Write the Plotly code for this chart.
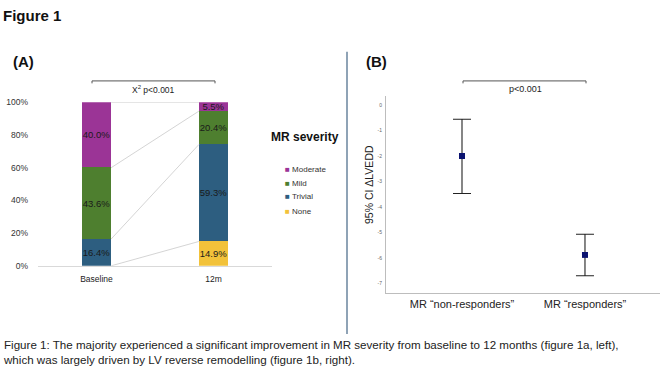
import plotly.graph_objects as go
import numpy as np

W, H = 661, 374

# ---- Data panel A ----
timepoints = ["Baseline", "12m"]
severity = ["None", "Trivial", "Mild", "Moderate"]
pct_none = [0.0, 14.9]
pct_trivial = [16.4, 59.3]
pct_mild = [43.6, 20.4]
pct_moderate = [40.0, 5.5]
sev_colors = {"None": "#F2C23A", "Trivial": "#2D5E80", "Mild": "#4E7F2F", "Moderate": "#9B3496"}

# ---- Data panel B ----
groups = ["MR \u201cnon-responders\u201d", "MR \u201cresponders\u201d"]
mean_dlvedd = [-2.0, -5.88]
ci_upper = [-0.55, -5.07]
ci_lower = [-3.47, -6.7]
yticks_b = [0, -1, -2, -3, -4, -5, -6, -7]


def px(x):
    return x / W


def py(y):
    return 1 - y / H


FONT = "Liberation Sans, Arial, sans-serif"
fig = go.Figure()

series = [pct_none, pct_trivial, pct_mild, pct_moderate]
xa = list(range(len(timepoints)))
for name, vals in zip(severity, series):
    xs = [x for x, v in zip(xa, vals) if v > 0]
    ys = [v for v in vals if v > 0]
    fig.add_trace(go.Bar(
        x=xs, y=ys, name=name, width=0.25,
        marker=dict(color=sev_colors[name], line=dict(width=0)),
        texttemplate="%{y:.1f}%",
        textposition="inside", insidetextanchor="middle", textangle=0,
        textfont=dict(size=9.5, color="#1a1a1a", family=FONT),
        xaxis="x", yaxis="y", showlegend=False, hoverinfo="skip",
    ))

# series lines connecting the tops of each stacked segment
cum = np.cumsum(np.array(series), axis=0)
bw = 0.125
for row in cum:
    fig.add_trace(go.Scatter(
        x=[xa[0] + bw, xa[1] - bw], y=[row[0], min(row[1], 100)],
        mode="lines", line=dict(color="#C9C9C9", width=0.8),
        xaxis="x", yaxis="y", showlegend=False, hoverinfo="skip",
    ))

# Panel B
xb = list(range(len(groups)))
fig.add_trace(go.Scatter(
    x=xb, y=mean_dlvedd, mode="markers",
    marker=dict(symbol="square", size=6, color="#0B1370"),
    error_y=dict(type="data", symmetric=False,
                 array=[u - m for u, m in zip(ci_upper, mean_dlvedd)],
                 arrayminus=[m - l for m, l in zip(mean_dlvedd, ci_lower)],
                 color="#222222", thickness=1.1, width=9),
    xaxis="x2", yaxis="y2", showlegend=False, hoverinfo="skip",
))

fig.update_layout(
    width=W, height=H, margin=dict(l=0, r=0, t=0, b=0),
    paper_bgcolor="white", plot_bgcolor="white",
    barmode="stack", bargap=0,
    uniformtext=dict(mode="show", minsize=9.5),
    font=dict(family=FONT, color="#222222"),
    xaxis=dict(domain=[px(38), px(272)], range=[-0.5, 1.5],
               tickvals=xa, ticktext=timepoints,
               tickfont=dict(size=8.5, color="#222"),
               showgrid=False, zeroline=False, showline=True,
               linecolor="#D9D9D9", linewidth=1, ticks="",
               ticklabelstandoff=5),
    yaxis=dict(domain=[py(268), py(100)], range=[0, 100],
               tickvals=[0, 20, 40, 60, 80, 100],
               ticktext=["0%", "20%", "40%", "60%", "80%", "100%"],
               tickfont=dict(size=8.5, color="#333"),
               showgrid=False, zeroline=False, showline=False, ticks="",
               ticklabelstandoff=9),
    xaxis2=dict(domain=[px(386), px(660)], range=[-0.618, 1.61],
                tickvals=xb, ticktext=groups,
                tickfont=dict(size=11, color="#222"),
                showgrid=False, zeroline=False, showline=True,
                linecolor="#BDBDBD", linewidth=1, ticks="", anchor="y2",
                ticklabelstandoff=1),
    yaxis2=dict(domain=[py(296), py(93)], range=[-7.38, 0.38],
                tickvals=yticks_b, ticktext=[str(t) for t in yticks_b],
                tickfont=dict(size=5, color="#666"),
                showgrid=False, zeroline=False, showline=True,
                linecolor="#BDBDBD", linewidth=1, ticks="", anchor="x2",
                ticklabelstandoff=2),
)

ann = []
ann.append(dict(text="<b>Figure 1</b>", x=px(1), y=py(11), xanchor="left", yanchor="middle",
                font=dict(size=15, color="#111")))
ann.append(dict(text="<b>(A)</b>", x=px(11), y=py(58), xanchor="left", yanchor="middle",
                font=dict(size=15, color="#111")))
ann.append(dict(text="<b>(B)</b>", x=px(364), y=py(58), xanchor="left", yanchor="middle",
                font=dict(size=15, color="#111")))
ann.append(dict(text="X<sup>2</sup> p<0.001", x=px(153), y=py(87), xanchor="center", yanchor="middle",
                font=dict(size=8.5, color="#222")))
ann.append(dict(text="p<0.001", x=px(525), y=py(86), xanchor="center", yanchor="middle",
                font=dict(size=9, color="#222")))
ann.append(dict(text="<b>MR severity</b>", x=px(305), y=py(136), xanchor="center", yanchor="middle",
                font=dict(size=12, color="#111")))
leg_y = [169, 183, 197, 212]
for name, yy in zip(severity[::-1], leg_y):
    ann.append(dict(text=f"<span style='color:{sev_colors[name]}'>\u25a0</span> {name}",
                    x=px(283), y=py(yy), xanchor="left", yanchor="middle",
                    font=dict(size=8, color="#333")))
ann.append(dict(text="95% CI \u0394LVEDD", x=px(369), y=py(185), xanchor="center", yanchor="middle",
                textangle=-90, font=dict(size=10.5, color="#222")))
ann.append(dict(text="Figure 1: The majority experienced a significant improvement in MR severity from baseline to 12 months (figure 1a, left),<br>which was largely driven by LV reverse remodelling (figure 1b, right).",
                x=px(1), y=py(357), xanchor="left", yanchor="middle", align="left",
                font=dict(size=11.6, color="#222")))
for a in ann:
    a.update(xref="paper", yref="paper", showarrow=False)
fig.update_layout(annotations=ann)


def bracket(x0, x1, y, d=2.5):
    return dict(type="path", xref="paper", yref="paper",
                path=f"M {px(x0)},{py(y + d)} L {px(x0)},{py(y)} L {px(x1)},{py(y)} L {px(x1)},{py(y + d)}",
                line=dict(color="#555", width=1))


shapes = [bracket(92, 215, 78), bracket(463, 586, 78),
          dict(type="line", xref="paper", yref="paper", x0=px(347), x1=px(347), y0=py(48), y1=py(338),
               line=dict(color="#8FA3B6", width=2))]
fig.update_layout(shapes=shapes)

fig.write_html("out.html")
